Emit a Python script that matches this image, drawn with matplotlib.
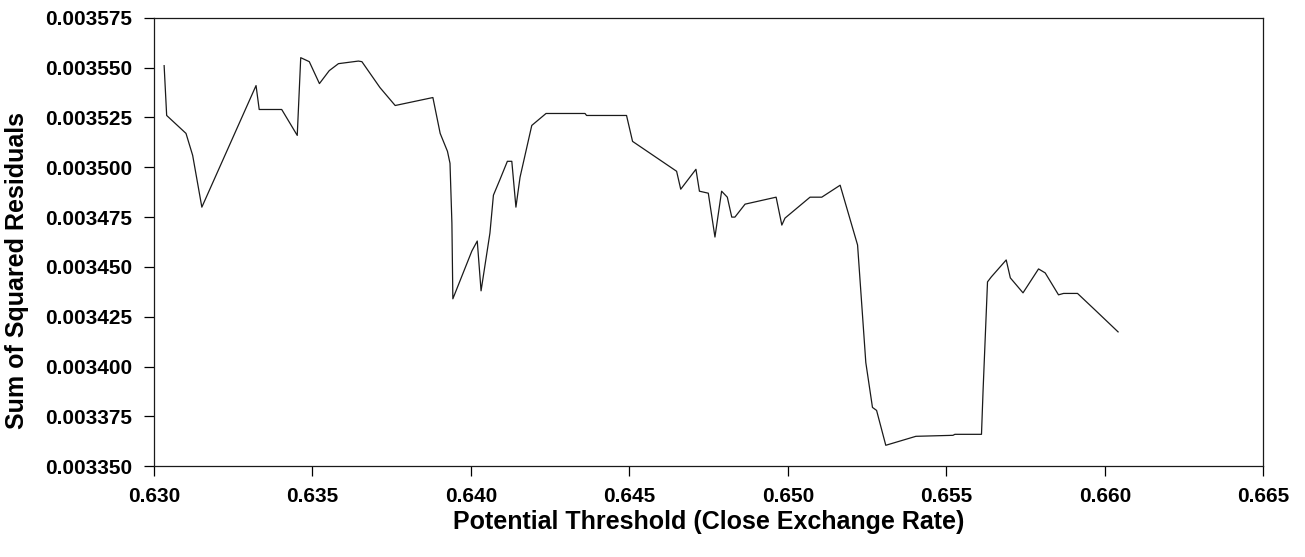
###############################################################
# Imports
###############################################################
import matplotlib
matplotlib.use("Agg")
import matplotlib.pyplot as plt
import numpy as np
from matplotlib.ticker import FormatStrFormatter

###############################################################
# Data
###############################################################

# Potential threshold values (close exchange rate)
threshold = [
    0.63032, 0.63040, 0.63101, 0.63122, 0.63151, 0.63322, 0.63332, 0.63403,
    0.63452, 0.63463, 0.63490, 0.63522, 0.63553, 0.63582, 0.63645, 0.63656,
    0.63713, 0.63761, 0.63880, 0.63903, 0.63926, 0.63934, 0.63940, 0.63943,
    0.64003, 0.64020, 0.64032, 0.64060, 0.64071, 0.64092, 0.64115, 0.64129,
    0.64142, 0.64155, 0.64192, 0.64237, 0.64360, 0.64365, 0.64491, 0.64510,
    0.64649, 0.64662, 0.64710, 0.64721, 0.64749, 0.64770, 0.64791, 0.64809,
    0.64823, 0.64833, 0.64865, 0.64963, 0.64981, 0.64991, 0.65070, 0.65107,
    0.65165, 0.65220, 0.65235, 0.65246, 0.65267, 0.65280, 0.65309, 0.65404,
    0.65521, 0.65527, 0.65611, 0.65616, 0.65630, 0.65642, 0.65689, 0.65702,
    0.65742, 0.65791, 0.65812, 0.65854, 0.65870, 0.65914, 0.65970, 0.66042,
]

# Sum of squared residuals for each threshold
ssr = [
    0.0035510, 0.0035260, 0.0035170, 0.0035060, 0.0034800, 0.0035410, 0.0035290, 0.0035290,
    0.0035160, 0.0035550, 0.0035530, 0.0035420, 0.0035485, 0.0035520, 0.0035533, 0.0035530,
    0.0035400, 0.0035310, 0.0035350, 0.0035170, 0.0035080, 0.0035020, 0.0034720, 0.0034340,
    0.0034580, 0.0034630, 0.0034380, 0.0034670, 0.0034860, 0.0034940, 0.0035030, 0.0035030,
    0.0034800, 0.0034950, 0.0035210, 0.0035270, 0.0035270, 0.0035260, 0.0035260, 0.0035130,
    0.0034980, 0.0034890, 0.0034990, 0.0034880, 0.0034870, 0.0034650, 0.0034880, 0.0034850,
    0.0034750, 0.0034750, 0.0034815, 0.0034850, 0.0034710, 0.0034745, 0.0034850, 0.0034850,
    0.0034910, 0.0034610, 0.0034270, 0.0034020, 0.0033795, 0.0033780, 0.0033605, 0.0033650,
    0.0033655, 0.0033660, 0.0033660, 0.0033880, 0.0034425, 0.0034450, 0.0034535, 0.0034445,
    0.0034370, 0.0034490, 0.0034470, 0.0034360, 0.0034367, 0.0034367, 0.0034283, 0.0034174,
]

x_ticks = np.arange(0.630, 0.6651, 0.005)
y_ticks = np.arange(0.003350, 0.0035751, 0.000025)

###############################################################
# Plot
###############################################################

plt.rcParams['font.family'] = ['Liberation Sans', 'DejaVu Sans']
plt.rcParams['font.weight'] = 'bold'

fig = plt.figure(figsize=(13.05, 5.57), dpi=100)
ax = fig.add_axes([0.118, 0.163, 0.850, 0.805])

ax.plot(threshold, ssr, color='#1a1a1a', linewidth=0.9)

ax.set_xlim(0.630, 0.665)
ax.set_ylim(0.003350, 0.003575)
ax.set_xticks(x_ticks)
ax.set_yticks(y_ticks)
ax.xaxis.set_major_formatter(FormatStrFormatter('%.3f'))
ax.yaxis.set_major_formatter(FormatStrFormatter('%.6f'))

ax.tick_params(axis='both', direction='out', length=7, width=0.9, labelsize=15, colors='black')
ax.tick_params(axis='x', pad=8)
ax.tick_params(axis='y', pad=9)
for label in ax.get_xticklabels() + ax.get_yticklabels():
    label.set_fontweight('bold')

for spine in ax.spines.values():
    spine.set_linewidth(0.9)
    spine.set_color('#1a1a1a')

ax.set_xlabel('Potential Threshold (Close Exchange Rate)', fontsize=18, fontweight='bold', labelpad=3)
ax.set_ylabel('Sum of Squared Residuals', fontsize=18, fontweight='bold')
# Excel places the axis title a little below the middle of the plot area
ax.yaxis.set_label_coords(-0.113, 0.4375)

fig.savefig('out.png', dpi=100)
